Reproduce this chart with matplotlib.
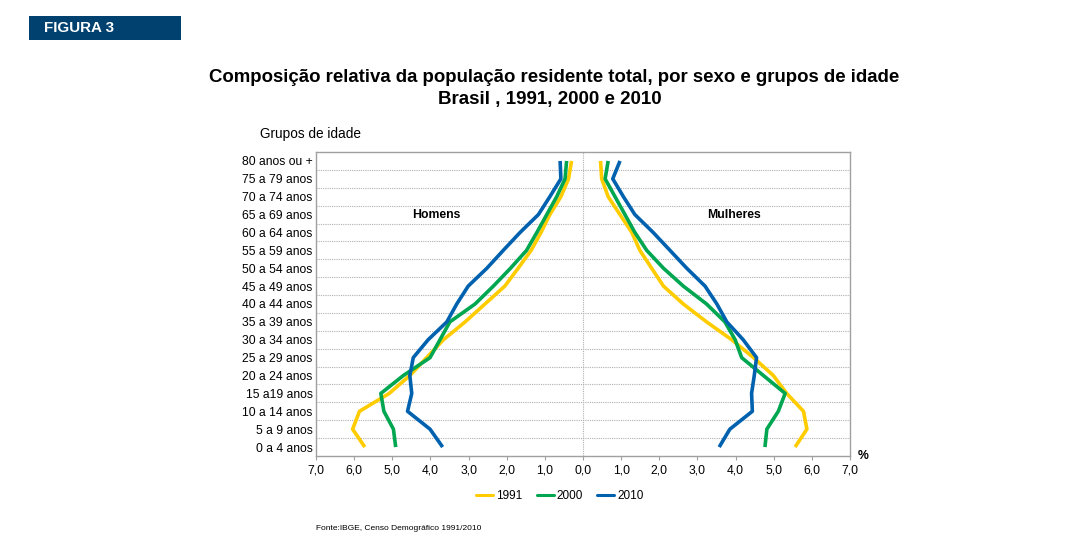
import matplotlib
matplotlib.use("Agg")
import matplotlib.pyplot as plt
from matplotlib.patches import Rectangle
from matplotlib.lines import Line2D

plt.rcParams['font.family'] = ['Liberation Sans', 'DejaVu Sans']

age_groups = ["0 a 4 anos", "5 a 9 anos", "10 a 14 anos", "15 a19 anos", "20 a 24 anos",
              "25 a 29 anos", "30 a 34 anos", "35 a 39 anos", "40 a 44 anos", "45 a 49 anos",
              "50 a 54 anos", "55 a 59 anos", "60 a 64 anos", "65 a 69 anos", "70 a 74 anos",
              "75 a 79 anos", "80 anos ou +"]

men_1991 = [5.72, 6.04, 5.86, 5.08, 4.54, 4.10, 3.66, 3.09, 2.57, 2.05, 1.70, 1.36, 1.10, 0.87, 0.58, 0.38, 0.30]
men_2000 = [4.91, 4.97, 5.22, 5.30, 4.71, 4.01, 3.75, 3.49, 2.83, 2.35, 1.90, 1.48, 1.21, 0.95, 0.69, 0.47, 0.43]
men_2010 = [3.68, 4.01, 4.60, 4.49, 4.54, 4.45, 4.06, 3.57, 3.31, 3.01, 2.52, 2.09, 1.65, 1.17, 0.87, 0.58, 0.60]

women_1991 = [5.56, 5.87, 5.78, 5.34, 4.99, 4.47, 3.90, 3.24, 2.63, 2.11, 1.80, 1.49, 1.28, 0.97, 0.66, 0.49, 0.46]
women_2000 = [4.77, 4.82, 5.12, 5.30, 4.73, 4.16, 3.99, 3.72, 3.24, 2.63, 2.11, 1.67, 1.36, 1.10, 0.84, 0.58, 0.66]
women_2010 = [3.57, 3.85, 4.44, 4.42, 4.49, 4.55, 4.20, 3.77, 3.51, 3.20, 2.72, 2.28, 1.84, 1.36, 1.06, 0.78, 0.97]

years = ["1991", "2000", "2010"]
colors = ["#FFCC00", "#00A650", "#0061AF"]
x_ticks = [-7, -6, -5, -4, -3, -2, -1, 0, 1, 2, 3, 4, 5, 6, 7]

fig = plt.figure(figsize=(10.86, 5.42), dpi=100)
ax = fig.add_axes([316/1086, 1-456/542, (850-316)/1086, (456-152)/542])

y = list(range(len(age_groups)))
men = [men_1991, men_2000, men_2010]
women = [women_1991, women_2000, women_2010]
for m, w, c in zip(men, women, colors):
    ax.plot([-v for v in m], y, color=c, lw=2.6, solid_capstyle='butt', zorder=3)
    ax.plot(w, y, color=c, lw=2.6, solid_capstyle='butt', zorder=3)

ax.set_xlim(-7, 7)
ax.set_ylim(-0.5, len(age_groups) - 0.5)
ax.set_yticks(y)
ax.set_yticklabels(age_groups, fontsize=8.7)
ax.set_xticks(x_ticks)
ax.set_xticklabels([("%.1f" % abs(v)).replace(".", ",") for v in x_ticks], fontsize=8.7)
ax.tick_params(axis='y', length=0, pad=2.5)
ax.tick_params(axis='x', length=3, color='#a0a0a0', pad=3)

for b in range(len(age_groups) - 1):
    ax.axhline(b + 0.5, color='#b0b0b0', lw=0.8, ls=(0, (1, 1)), zorder=1)
ax.axvline(0, color='#b0b0b0', lw=0.8, ls=(0, (1, 1)), zorder=1)

for s in ax.spines.values():
    s.set_color('#a0a0a0')
    s.set_linewidth(1.0)

ax.text(-3.85, 13, "Homens", fontsize=8.8, fontweight='bold', ha='center', va='center')
ax.text(3.95, 13, "Mulheres", fontsize=8.8, fontweight='bold', ha='center', va='center')

# header box
fig.patches.append(Rectangle((29/1086, 1-40/542), 152/1086, 24/542, transform=fig.transFigure,
                             facecolor='#004170', edgecolor='none'))
fig.text(44/1086, 1-28/542, "FIGURA 3", color='white', fontsize=10.9, fontweight='bold', va='center')

fig.text(554/1086, 1-77/542, "Composição relativa da população residente total, por sexo e grupos de idade",
         fontsize=13.4, fontweight='bold', ha='center', va='center')
fig.text(550/1086, 1-100/542, "Brasil , 1991, 2000 e 2010",
         fontsize=13.5, fontweight='bold', ha='center', va='center')

fig.text(260/1086, 1-134/542, "Grupos de idade", fontsize=9.8, va='center')
fig.text(858/1086, 1-456/542, "%", fontsize=8.8, fontweight='bold', va='center')

handles = [Line2D([], [], color=c, lw=2.2, solid_capstyle='round') for c in colors]
fig.legend(handles, years, loc='center', bbox_to_anchor=(560/1086, 1-496/542), ncol=3,
           frameon=False, fontsize=8.5, handlelength=1.45, handletextpad=0.25, columnspacing=1.2)

fig.text(316/1086, 1-529/542, "Fonte:IBGE, Censo Demográfico 1991/2010", fontsize=6, va='center')

fig.savefig("out.png", dpi=100)
